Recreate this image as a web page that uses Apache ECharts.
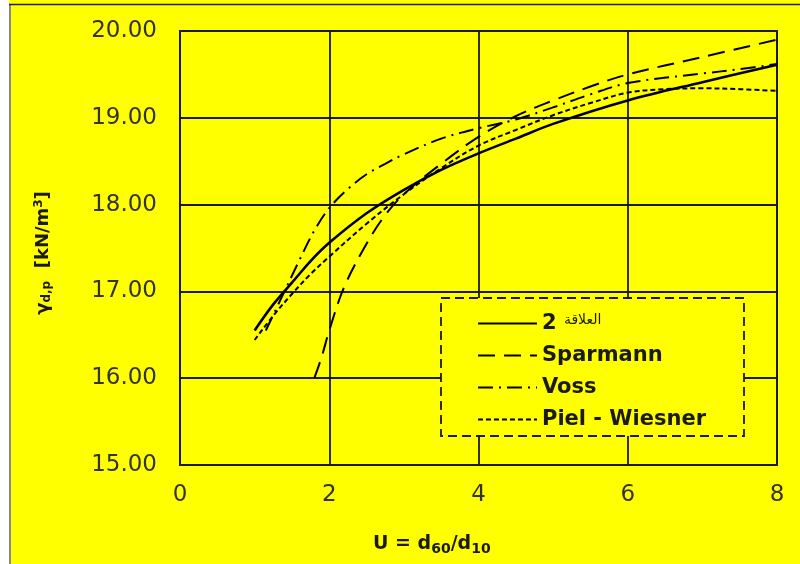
<!DOCTYPE html>
<html>
<head>
<meta charset="utf-8">
<script src="https://cdn.jsdelivr.net/npm/echarts@6/dist/echarts.min.js"></script>
<style>
  html, body { margin: 0; padding: 0; background: #ffffff; }
  #chart { width: 800px; height: 564px; }
</style>
</head>
<body>
<div id="chart"></div>
<script>
// Dry density γd,p versus uniformity coefficient U = d60/d10
const seriesNames = ['2 العلاقة', 'Sparmann', 'Voss', 'Piel - Wiesner'];

const relation2U     = [1.0, 1.25, 1.5, 1.75, 2.0, 2.5, 3.0, 3.5, 4.0, 4.5, 5.0, 6.0, 7.0, 8.0];
const relation2Gamma = [16.55, 16.85, 17.10, 17.35, 17.56, 17.90, 18.17, 18.40, 18.59, 18.76, 18.93, 19.20, 19.41, 19.61];

const sparmannU     = [1.8, 1.9, 2.0, 2.2, 2.5, 2.75, 3.0, 3.5, 4.0, 4.5, 5.0, 5.5, 6.0, 7.0, 8.0];
const sparmannGamma = [16.00, 16.25, 16.55, 17.05, 17.55, 17.88, 18.12, 18.47, 18.78, 19.02, 19.20, 19.36, 19.50, 19.70, 19.90];

const vossU     = [1.15, 1.4, 1.6, 1.8, 2.0, 2.25, 2.5, 2.75, 3.0, 3.5, 4.0, 4.5, 5.0, 5.5, 6.0, 7.0, 7.5, 8.0];
const vossGamma = [16.55, 17.00, 17.36, 17.70, 17.96, 18.18, 18.35, 18.47, 18.58, 18.76, 18.88, 18.98, 19.12, 19.27, 19.40, 19.51, 19.56, 19.62];

const pielU     = [1.0, 1.25, 1.5, 1.75, 2.0, 2.5, 3.0, 3.5, 4.0, 4.5, 5.0, 5.5, 6.0, 6.5, 7.0, 7.5, 8.0];
const pielGamma = [16.44, 16.72, 16.97, 17.20, 17.40, 17.78, 18.12, 18.42, 18.68, 18.86, 19.03, 19.17, 19.29, 19.33, 19.34, 19.33, 19.31];

const xTicks = [0, 2, 4, 6, 8];
const yTicks = [15, 16, 17, 18, 19, 20];

const pairs = (xs, ys) => xs.map((x, i) => [x, ys[i]]);

const FONT = '"DejaVu Sans", "Liberation Sans", sans-serif';
const INK = '#1a1a1a';

const chart = echarts.init(document.getElementById('chart'), null, { renderer: 'canvas' });

function lineSeries(name, data, width, dash) {
  return {
    name: name,
    type: 'line',
    data: data,
    smooth: 0.35,
    symbol: 'none',
    z: 2,
    lineStyle: { color: '#000', width: width, type: dash, cap: 'butt' },
    itemStyle: { color: '#000' }
  };
}

chart.setOption({
  backgroundColor: '#ffff00',
  animation: false,
  grid: {
    left: 180, right: 23, top: 31, bottom: 99,
    show: true, borderColor: INK, borderWidth: 2, backgroundColor: 'transparent'
  },
  xAxis: {
    type: 'value',
    min: xTicks[0], max: xTicks[xTicks.length - 1], interval: 2,
    axisLine: { show: true, lineStyle: { color: INK, width: 2 } },
    axisTick: { show: false },
    splitLine: { show: true, lineStyle: { color: INK, width: 1.8 } },
    axisLabel: { color: '#333', fontFamily: FONT, fontSize: 23, margin: 19 }
  },
  yAxis: {
    type: 'value',
    min: yTicks[0], max: yTicks[yTicks.length - 1], interval: 1,
    axisLine: { show: true, lineStyle: { color: INK, width: 2 } },
    axisTick: { show: false },
    splitLine: { show: true, lineStyle: { color: INK, width: 1.8 } },
    axisLabel: {
      color: '#333', fontFamily: FONT, fontSize: 23, margin: 23,
      formatter: v => v.toFixed(2)
    }
  },
  legend: {
    orient: 'vertical',
    left: 472, top: 308,
    z: 10,
    itemWidth: 59, itemHeight: 14, itemGap: 11,
    itemStyle: { opacity: 0 },
    data: seriesNames,
    textStyle: {
      color: INK, fontFamily: FONT, fontSize: 21, fontWeight: 'bold',
      rich: {
        ar: { fontFamily: FONT, fontSize: 14, fontWeight: 'normal', color: INK, padding: [0, 0, 6, 0] }
      }
    },
    formatter: function (name) {
      if (name === seriesNames[0]) return '2 {ar|العلاقة}';
      return name;
    }
  },
  graphic: [
    // page frame: white margin on the left, grey rule, dark top rule
    { type: 'rect', shape: { x: 0, y: 0, width: 9, height: 564 }, style: { fill: '#ffffff' }, z: 20, silent: true },
    { type: 'line', shape: { x1: 10, y1: 4, x2: 10, y2: 564 }, style: { stroke: '#8a8a80', lineWidth: 2 }, z: 20, silent: true },
    { type: 'line', shape: { x1: 9, y1: 4.5, x2: 800, y2: 4.5 }, style: { stroke: '#222', lineWidth: 1.5 }, z: 20, silent: true },
    // legend frame (dashed, masks grid lines behind it)
    {
      type: 'rect', z: 5, silent: true,
      shape: { x: 441, y: 298, width: 303, height: 138 },
      style: { fill: '#ffff00', stroke: INK, lineWidth: 1.8, lineDash: [9, 5] }
    },
    // x-axis title
    {
      type: 'text', z: 10, left: 373, top: 535,
      style: {
        text: '{b|U = d}{s|60}{b|/d}{s|10}',
        rich: {
          b: { fontFamily: FONT, fontSize: 19, fontWeight: 'bold', fill: INK },
          s: { fontFamily: FONT, fontSize: 14, fontWeight: 'bold', fill: INK, padding: [9, 0, 0, 0] }
        }
      }
    },
    // y-axis title
    {
      type: 'text', z: 10, x: 43, y: 253, rotation: Math.PI / 2,
      style: {
        text: '{b|γ}{s|d,p}{b|  [kN/m}{p|3}{b|]}',
        align: 'center', verticalAlign: 'middle',
        rich: {
          b: { fontFamily: FONT, fontSize: 18, fontWeight: 'bold', fill: INK },
          s: { fontFamily: FONT, fontSize: 12, fontWeight: 'bold', fill: INK, padding: [8, 0, 0, 0] },
          p: { fontFamily: FONT, fontSize: 12, fontWeight: 'bold', fill: INK, padding: [0, 0, 8, 0] }
        }
      }
    }
  ],
  series: [
    lineSeries(seriesNames[0], pairs(relation2U, relation2Gamma), 2.6, 'solid'),
    lineSeries(seriesNames[1], pairs(sparmannU, sparmannGamma), 2, [17, 9]),
    lineSeries(seriesNames[2], pairs(vossU, vossGamma), 2, [15, 6, 2, 6]),
    lineSeries(seriesNames[3], pairs(pielU, pielGamma), 2, [5, 3])
  ]
});
</script>
</body>
</html>
